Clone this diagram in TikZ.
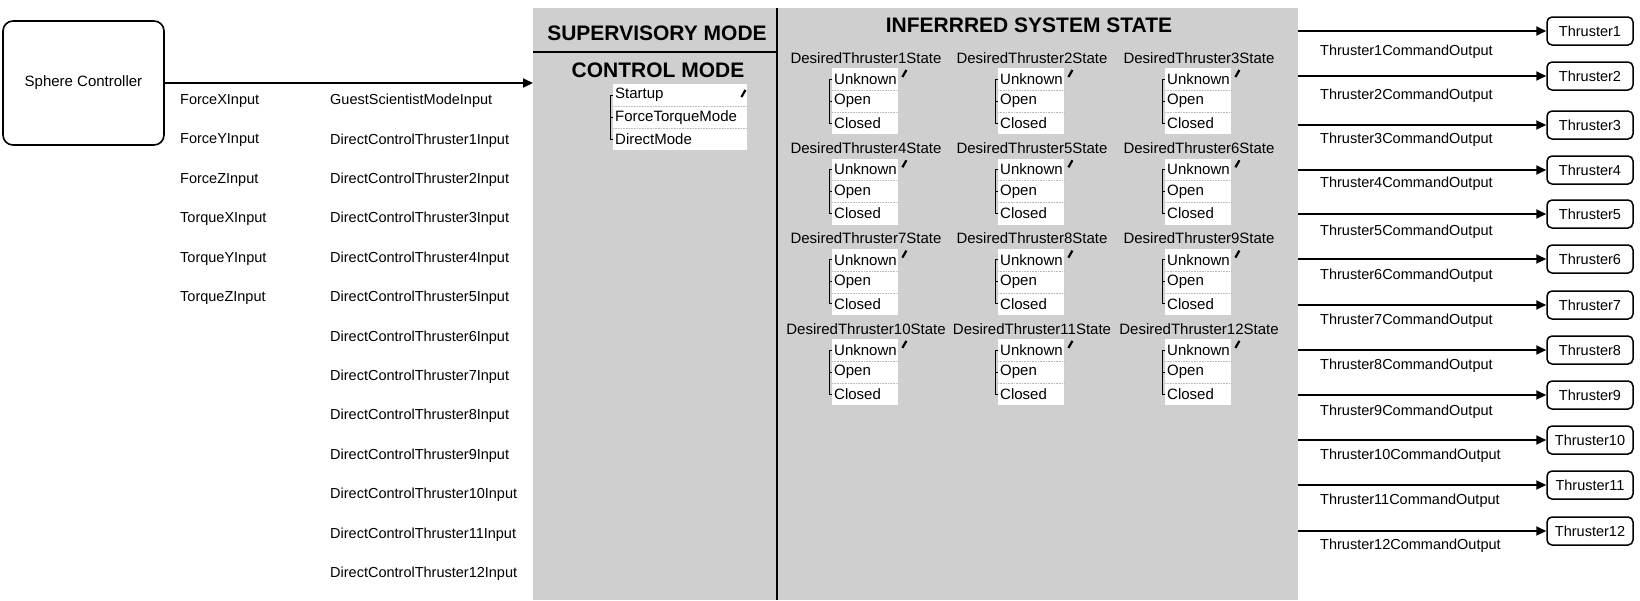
\documentclass[tikz,border=0pt]{standalone}
\usepackage{fontspec}
\setmainfont{Liberation Sans}
\usetikzlibrary{arrows.meta}

\definecolor{panelgray}{RGB}{207,207,207}
\definecolor{sepgray}{RGB}{185,185,185}

\tikzset{
  lbl/.style={anchor=west, inner sep=0pt, font=\fontsize{14.5}{17}\selectfont},
  hdr/.style={inner sep=0pt, font=\fontsize{21}{24}\selectfont\bfseries},
  sub/.style={inner sep=0pt, font=\fontsize{15}{18}\selectfont},
  rowbox/.style={fill=white, anchor=north west, inner ysep=0pt, inner xsep=2pt,
    minimum height=22pt, align=left, font=\fontsize{15}{18}\selectfont},
  bracket/.style={line width=1pt},
  sep/.style={sepgray, densely dotted, line width=0.6pt},
  pencil/.style={line width=2.2pt},
  ctrlbox/.style={draw, line width=1.6pt, rounded corners=10pt, align=center,
    font=\fontsize{15}{18}\selectfont},
  tbox/.style={draw, line width=1.5pt, rounded corners=5pt, minimum width=86pt,
    minimum height=28pt, inner sep=0pt, font=\fontsize{14.5}{17}\selectfont},
  arr/.style={line width=1.8pt, -{Triangle[length=10pt,width=9pt]}},
}

% one desired-state group: name, header centre x, header y, header text
\newcommand\stategroup[4]{%
  \node[sub] (#1h) at (#2,#3) {#4};
  \pgfmathsetmacro\gx{#2-34}
  \pgfmathsetmacro\gy{#3+10}
  \foreach \t [count=\k] in {Unknown,Open,Closed}
    \node[rowbox, text width=62pt] (#1r\k) at (\gx,\gy+22*\k-22) {\t};
  \draw[sep] (#1r1.south west) -- (#1r1.south east);
  \draw[sep] (#1r2.south west) -- (#1r2.south east);
  \draw[bracket] (#1r1.west) -- ++(-3,0) |- (#1r3.west);
  \draw[bracket] (#1r2.west) -- ++(-3,0);
  \draw[pencil] ([shift={(4,9)}]#1r1.north east) -- ++(4,-7);
}

\begin{document}
\begin{tikzpicture}[x=1pt, y=-1pt]
\useasboundingbox (0,0) rectangle (1640,600);

% shaded state panel
\node[fill=panelgray, minimum width=765pt, minimum height=592pt, anchor=north west,
  inner sep=0pt] (panel) at (533,8) {};
\draw[line width=2pt] (777,8) -- (777,600);
\draw[line width=2pt] (533,52) -- (777,52);

% controller and its input link
\node[ctrlbox, minimum width=161pt, minimum height=124pt] (sc) at (83.5,83) {Sphere Controller};
\draw[arr] (sc.east) -- (sc.east -| panel.west);

% input names
\foreach \t [count=\i] in {ForceXInput,ForceYInput,ForceZInput,TorqueXInput,TorqueYInput,TorqueZInput}
  \node[lbl] (fin\i) at (180,101+39.4*\i-39.4) {\t};
\foreach \t [count=\i] in {GuestScientistModeInput,DirectControlThruster1Input,DirectControlThruster2Input,
    DirectControlThruster3Input,DirectControlThruster4Input,DirectControlThruster5Input,
    DirectControlThruster6Input,DirectControlThruster7Input,DirectControlThruster8Input,
    DirectControlThruster9Input,DirectControlThruster10Input,DirectControlThruster11Input,
    DirectControlThruster12Input}
  \node[lbl] (din\i) at (330,101+39.4*\i-39.4) {\t};

% supervisory / control mode
\node[hdr] (sup) at (657,33) {SUPERVISORY MODE};
\node[hdr] (cm) at (658,70) {CONTROL MODE};
\foreach \t [count=\k] in {Startup,ForceTorqueMode,DirectMode}
  \node[rowbox, text width=130pt] (cmr\k) at (613,84+22*\k-22) {\t};
\draw[sep] (cmr1.south west) -- (cmr1.south east);
\draw[sep] (cmr2.south west) -- (cmr2.south east);
\draw[bracket] (cmr1.west) -- ++(-3,0) |- (cmr3.west);
\draw[bracket] (cmr2.west) -- ++(-3,0);
\draw[pencil] ([shift={(-6,13)}]cmr1.north east) -- ++(4,-7);

% inferred system state
\node[hdr] (iss) at (1029,25) {INFERRRED SYSTEM STATE};
\foreach \r in {0,1,2,3}
  \foreach \c/\cx in {1/866,2/1032,3/1199} {
    \pgfmathtruncatemacro\n{3*\r+\c}
    \pgfmathsetmacro\hy{58+90.3*\r}
    \stategroup{g\n}{\cx}{\hy}{DesiredThruster\n State}
  }

% thruster outputs
\foreach \n/\ay/\ly in {1/31/52,2/76/96,3/125/140,4/170/184,5/214/232,6/259/276,
    7/305/321,8/350/366,9/395/412,10/440/456,11/485/501,12/531/546} {
  \node[tbox] (T\n) at (1590,\ay) {Thruster\n};
  \draw[arr] (T\n.west -| panel.east) -- (T\n.west);
  \node[lbl] (out\n) at (1320,\ly) {Thruster\n CommandOutput};
}
\end{tikzpicture}
\end{document}
